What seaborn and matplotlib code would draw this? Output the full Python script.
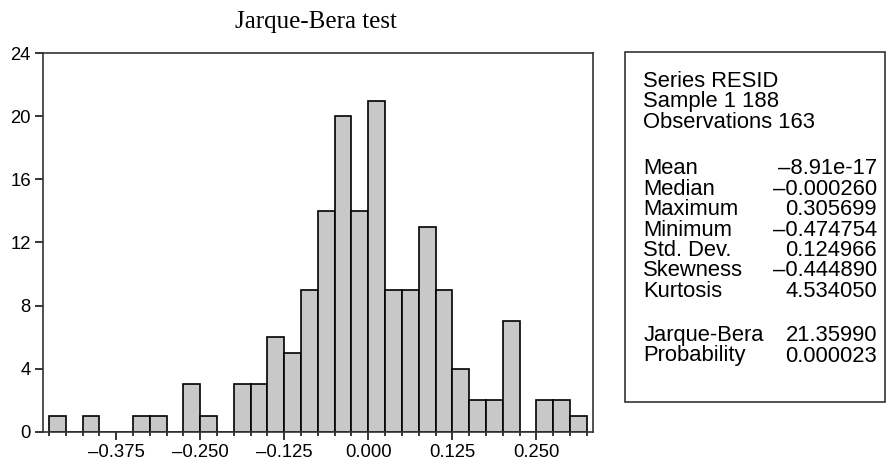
import numpy as np
import pandas as pd
import matplotlib
matplotlib.use("Agg")
import matplotlib.pyplot as plt
from matplotlib.patches import Rectangle
import seaborn as sns

# ---- data ----
bin_start = -0.475
bin_width = 0.025
counts = [1, 0, 1, 0, 0, 1, 1, 0, 3, 1, 0, 3, 3, 6, 5, 9,
          14, 20, 14, 21, 9, 9, 13, 9, 4, 2, 2, 7, 0, 2, 2, 1]
x_ticks = [-0.375, -0.250, -0.125, 0.000, 0.125, 0.250]
x_tick_labels = ["\u20130.375", "\u20130.250", "\u20130.125", "0.000", "0.125", "0.250"]
y_ticks = [0, 4, 8, 12, 16, 20, 24]

title = "Jarque-Bera test"
header_lines = ["Series RESID", "Sample 1 188", "Observations 163"]
stat_names = ["Mean", "Median", "Maximum", "Minimum", "Std. Dev.", "Skewness", "Kurtosis"]
stat_values = ["\u20138.91e-17", "\u20130.000260", "0.305699", "\u20130.474754",
               "0.124966", "\u20130.444890", "4.534050"]
test_names = ["Jarque-Bera", "Probability"]
test_values = ["21.35990", "0.000023"]

# ---- figure ----
sns.set_theme(style="white")
plt.rcParams["font.family"] = ["Liberation Sans", "DejaVu Sans"]

W, H = 886, 461
fig = plt.figure(figsize=(W / 100, H / 100), dpi=100)

def fx(px):
    return px / W

def fy(py):
    return 1 - py / H

ax_l, ax_r, ax_t, ax_b = 43.3, 593.3, 53.3, 431.7
ax = fig.add_axes([fx(ax_l), fy(ax_b), fx(ax_r) - fx(ax_l), fy(ax_t) - fy(ax_b)])

n = len(counts)
edges = [float(e) for e in bin_start + bin_width * np.arange(n + 1)]
centers = [e + bin_width / 2 for e in edges[:-1]]
df = pd.DataFrame({"resid": centers, "count": counts})

sns.histplot(data=df, x="resid", weights="count", bins=edges, ax=ax,
             color="#c8c8c8", edgecolor="black", linewidth=1.2, alpha=1.0)

ax.set_xlim(-0.4836, 0.3348)
ax.set_ylim(0, 24)
ax.set_xlabel("")
ax.set_ylabel("")

ax.set_xticks(x_ticks)
ax.set_xticklabels(x_tick_labels)
ax.set_xticks(edges, minor=True)
ax.set_yticks(y_ticks)

ax.tick_params(axis="x", which="major", direction="out", length=6, width=1.1,
               color="black", labelsize=13.3, pad=3, bottom=True)
ax.tick_params(axis="x", which="minor", direction="out", length=3, width=1.1,
               color="black", bottom=True)
ax.tick_params(axis="y", which="major", direction="out", length=6, width=1.1,
               color="black", labelsize=13.3, pad=3, left=True)
for lab in ax.get_xticklabels() + ax.get_yticklabels():
    lab.set_color("black")

for s in ax.spines.values():
    s.set_visible(True)
    s.set_color("#333333")
    s.set_linewidth(1.2)

fig.text(fx(316), fy(22), title, ha="center", va="center",
         fontsize=18, family=["Liberation Serif", "DejaVu Serif"], color="black")

# ---- statistics box ----
box = Rectangle((fx(625), fy(401.7)), fx(885) - fx(625), fy(52.3) - fy(401.7),
                transform=fig.transFigure, fill=False, edgecolor="#333333",
                linewidth=1.2)
fig.patches.append(box)

tx_l, tx_r = 643.3, 877.0
fs = 15.8
step = 20.5
y = 87
for line in header_lines:
    fig.text(fx(tx_l), fy(y), line, ha="left", va="baseline", fontsize=fs, color="black")
    y += step
y = 174
for name, val in zip(stat_names, stat_values):
    fig.text(fx(tx_l), fy(y), name, ha="left", va="baseline", fontsize=fs, color="black")
    fig.text(fx(tx_r), fy(y), val, ha="right", va="baseline", fontsize=fs, color="black")
    y += step
y = 341
for name, val in zip(test_names, test_values):
    fig.text(fx(tx_l), fy(y), name, ha="left", va="baseline", fontsize=fs, color="black")
    fig.text(fx(tx_r), fy(y), val, ha="right", va="baseline", fontsize=fs, color="black")
    y += step

fig.savefig("out.png", dpi=100)
